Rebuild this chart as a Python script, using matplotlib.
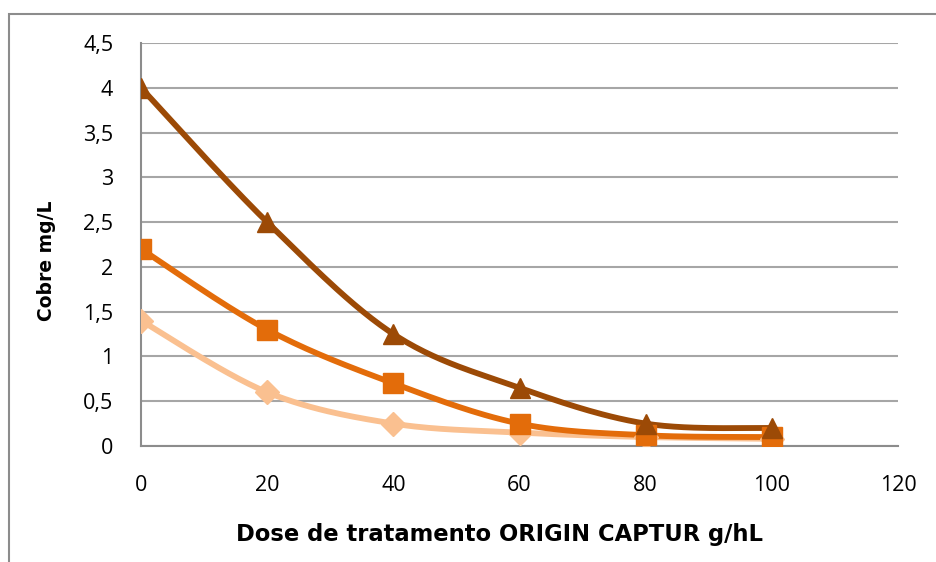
import numpy as np
import matplotlib.pyplot as plt
from matplotlib.patches import Rectangle

# Data
doses = [0, 20, 40, 60, 80, 100]
serie_triangulo = [4.0, 2.5, 1.25, 0.65, 0.25, 0.2]
serie_quadrado = [2.2, 1.3, 0.7, 0.25, 0.12, 0.1]
serie_losango = [1.4, 0.6, 0.25, 0.15, 0.1, 0.08]

y_ticks = [0, 0.5, 1, 1.5, 2, 2.5, 3, 3.5, 4, 4.5]
y_tick_labels = ["0", "0,5", "1", "1,5", "2", "2,5", "3", "3,5", "4", "4,5"]
x_ticks = [0, 20, 40, 60, 80, 100, 120]


def smooth(x, y, n=30):
    """Excel-like smoothed line (Catmull-Rom via cubic Bezier)."""
    x = np.asarray(x, float)
    y = np.asarray(y, float)
    px = np.concatenate([[x[0]], x, [x[-1]]])
    py = np.concatenate([[y[0]], y, [y[-1]]])
    xs, ys = [], []
    t = np.linspace(0, 1, n)
    for i in range(1, len(px) - 2):
        p0 = np.array([px[i], py[i]])
        p3 = np.array([px[i + 1], py[i + 1]])
        c1 = p0 + (np.array([px[i + 1], py[i + 1]]) - np.array([px[i - 1], py[i - 1]])) / 6
        c2 = p3 - (np.array([px[i + 2], py[i + 2]]) - np.array([px[i], py[i]])) / 6
        b = ((1 - t) ** 3)[:, None] * p0 + (3 * (1 - t) ** 2 * t)[:, None] * c1 \
            + (3 * (1 - t) * t ** 2)[:, None] * c2 + (t ** 3)[:, None] * p3
        xs.extend(b[:, 0])
        ys.extend(b[:, 1])
    return xs, ys


fig = plt.figure(figsize=(9.36, 5.62), dpi=100)
ax = fig.add_axes([141 / 936, 1 - 446 / 562, (898 - 141) / 936, (446 - 43) / 562])

series = [
    (serie_losango, "#FAC090", "D", 12.5),
    (serie_quadrado, "#E36C0A", "s", 14),
    (serie_triangulo, "#9C4A06", "^", 15),
]
for vals, color, marker, ms in series:
    sx, sy = smooth(doses, vals)
    ax.plot(sx, sy, color=color, lw=4.2, solid_capstyle="round", zorder=3)
    ax.plot(doses, vals, linestyle="none", marker=marker, markersize=ms,
            color=color, zorder=4)

ax.set_xlim(0, 120)
ax.set_ylim(0, 4.5)
ax.set_yticks(y_ticks)
ax.set_yticklabels(y_tick_labels)
ax.set_xticks(x_ticks)
ax.tick_params(length=0, labelsize=15.5, labelcolor="black")
ax.tick_params(axis="y", pad=20)
ax.tick_params(axis="x", pad=21)
for lab in ax.get_xticklabels() + ax.get_yticklabels():
    lab.set_fontfamily("Open Sans")

ax.grid(axis="y", color="#a6a6a6", lw=1.5)
ax.set_axisbelow(True)
for side in ["top", "right"]:
    ax.spines[side].set_visible(False)
ax.spines["left"].set_color("#8c8c8c")
ax.spines["bottom"].set_color("#8c8c8c")
ax.spines["left"].set_linewidth(1.5)
ax.spines["bottom"].set_linewidth(1.5)

fig.text(500 / 936, 1 - 535 / 562, "Dose de tratamento ORIGIN CAPTUR g/hL",
         ha="center", va="center", fontsize=16.3, fontweight="bold", family="DejaVu Sans")
fig.text(46 / 936, 1 - 261 / 562, "Cobre mg/L", rotation=90,
         ha="center", va="center", fontsize=13.5, fontweight="bold", family="DejaVu Sans")

# outer chart border
fig.patches.append(Rectangle((9 / 936, -0.05), 1.0, 1 - 14 / 562 + 0.05,
                             transform=fig.transFigure, fill=False,
                             edgecolor="#8c8c8c", lw=1.5))

fig.savefig("out.png", dpi=100)
